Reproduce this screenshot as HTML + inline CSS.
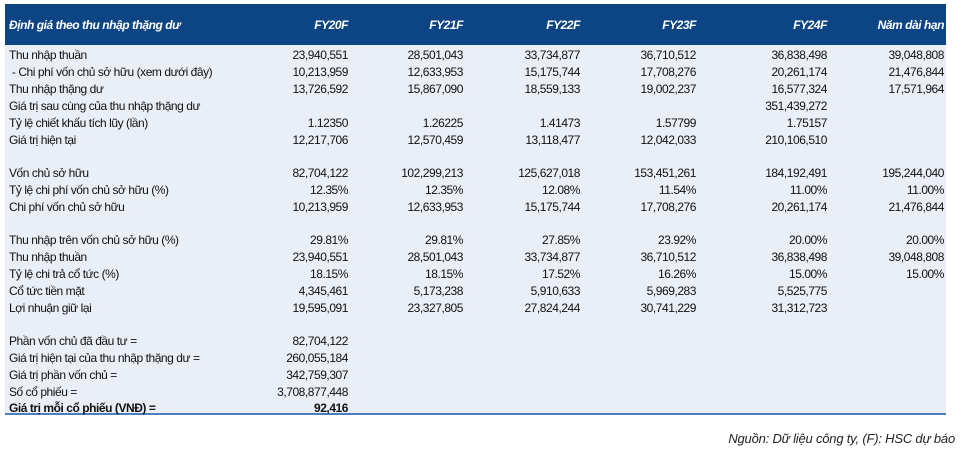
<!DOCTYPE html>
<html><head><meta charset="utf-8"><style>
body{margin:0;width:975px;height:458px;background:#fff;position:relative;overflow:hidden;font-family:"Liberation Sans",Arial,sans-serif;font-size:12px;color:#111;letter-spacing:-0.45px}
.panel{position:absolute;left:5px;top:4px;width:941px;height:409px;background:#eaeef6;border-bottom:2px solid #4a7fc0}
.hdr{position:absolute;left:5px;top:4px;width:941px;height:41px;background:#0d4584}
.r{position:absolute;left:0;width:975px;height:16px;line-height:16px}
.r span{position:absolute;white-space:nowrap}
.l{left:9px}
.c1{right:627px}.c2{right:512px}.c3{right:395px}.c4{right:279px}.c5{right:148px}.c6{right:31px}
.h{color:#fff;font-style:italic;font-weight:bold}
.b{font-weight:bold}
.foot{position:absolute;right:20px;top:431px;font-style:italic;font-size:13px;letter-spacing:-0.2px;color:#222}
</style></head><body>
<div class="panel"></div>
<div class="hdr"></div>
<div class="r h" style="top:17px"><span class="l">Định giá theo thu nhập thặng dư</span><span class="c1">FY20F</span><span class="c2">FY21F</span><span class="c3">FY22F</span><span class="c4">FY23F</span><span class="c5">FY24F</span><span class="c6">Năm dài hạn</span></div>

<div class="r" style="top:47px"><span class="l">Thu nhập thuần</span><span class="c1">23,940,551</span><span class="c2">28,501,043</span><span class="c3">33,734,877</span><span class="c4">36,710,512</span><span class="c5">36,838,498</span><span class="c6">39,048,808</span></div>
<div class="r" style="top:64px"><span class="l">&nbsp;- Chi phí vốn chủ sở hữu (xem dưới đây)</span><span class="c1">10,213,959</span><span class="c2">12,633,953</span><span class="c3">15,175,744</span><span class="c4">17,708,276</span><span class="c5">20,261,174</span><span class="c6">21,476,844</span></div>
<div class="r" style="top:81px"><span class="l">Thu nhập thặng dư</span><span class="c1">13,726,592</span><span class="c2">15,867,090</span><span class="c3">18,559,133</span><span class="c4">19,002,237</span><span class="c5">16,577,324</span><span class="c6">17,571,964</span></div>
<div class="r" style="top:98px"><span class="l">Giá trị sau cùng của thu nhập thặng dư</span><span class="c5">351,439,272</span></div>
<div class="r" style="top:115px"><span class="l">Tỷ lệ chiết khấu tích lũy (lần)</span><span class="c1">1.12350</span><span class="c2">1.26225</span><span class="c3">1.41473</span><span class="c4">1.57799</span><span class="c5">1.75157</span></div>
<div class="r" style="top:132px"><span class="l">Giá trị hiện tại</span><span class="c1">12,217,706</span><span class="c2">12,570,459</span><span class="c3">13,118,477</span><span class="c4">12,042,033</span><span class="c5">210,106,510</span></div>

<div class="r" style="top:165px"><span class="l">Vốn chủ sở hữu</span><span class="c1">82,704,122</span><span class="c2">102,299,213</span><span class="c3">125,627,018</span><span class="c4">153,451,261</span><span class="c5">184,192,491</span><span class="c6">195,244,040</span></div>
<div class="r" style="top:182px"><span class="l">Tỷ lệ chi phí vốn chủ sở hữu (%)</span><span class="c1">12.35%</span><span class="c2">12.35%</span><span class="c3">12.08%</span><span class="c4">11.54%</span><span class="c5">11.00%</span><span class="c6">11.00%</span></div>
<div class="r" style="top:199px"><span class="l">Chi phí vốn chủ sở hữu</span><span class="c1">10,213,959</span><span class="c2">12,633,953</span><span class="c3">15,175,744</span><span class="c4">17,708,276</span><span class="c5">20,261,174</span><span class="c6">21,476,844</span></div>

<div class="r" style="top:232px"><span class="l">Thu nhập trên vốn chủ sở hữu (%)</span><span class="c1">29.81%</span><span class="c2">29.81%</span><span class="c3">27.85%</span><span class="c4">23.92%</span><span class="c5">20.00%</span><span class="c6">20.00%</span></div>
<div class="r" style="top:249px"><span class="l">Thu nhập thuần</span><span class="c1">23,940,551</span><span class="c2">28,501,043</span><span class="c3">33,734,877</span><span class="c4">36,710,512</span><span class="c5">36,838,498</span><span class="c6">39,048,808</span></div>
<div class="r" style="top:266px"><span class="l">Tỷ lệ chi trả cổ tức (%)</span><span class="c1">18.15%</span><span class="c2">18.15%</span><span class="c3">17.52%</span><span class="c4">16.26%</span><span class="c5">15.00%</span><span class="c6">15.00%</span></div>
<div class="r" style="top:283px"><span class="l">Cổ tức tiền mặt</span><span class="c1">4,345,461</span><span class="c2">5,173,238</span><span class="c3">5,910,633</span><span class="c4">5,969,283</span><span class="c5">5,525,775</span></div>
<div class="r" style="top:300px"><span class="l">Lợi nhuận giữ lại</span><span class="c1">19,595,091</span><span class="c2">23,327,805</span><span class="c3">27,824,244</span><span class="c4">30,741,229</span><span class="c5">31,312,723</span></div>

<div class="r" style="top:333px"><span class="l">Phần vốn chủ đã đầu tư =</span><span class="c1">82,704,122</span></div>
<div class="r" style="top:350px"><span class="l">Giá trị hiện tại của thu nhập thặng dư =</span><span class="c1">260,055,184</span></div>
<div class="r" style="top:367px"><span class="l">Giá trị phần vốn chủ =</span><span class="c1">342,759,307</span></div>
<div class="r" style="top:384px"><span class="l">Số cổ phiếu =</span><span class="c1">3,708,877,448</span></div>
<div class="r b" style="top:400px"><span class="l">Giá trị mỗi cổ phiếu (VNĐ) =</span><span class="c1">92,416</span></div>

<div class="foot">Nguồn: Dữ liệu công ty, (F): HSC dự báo</div>
</body></html>
